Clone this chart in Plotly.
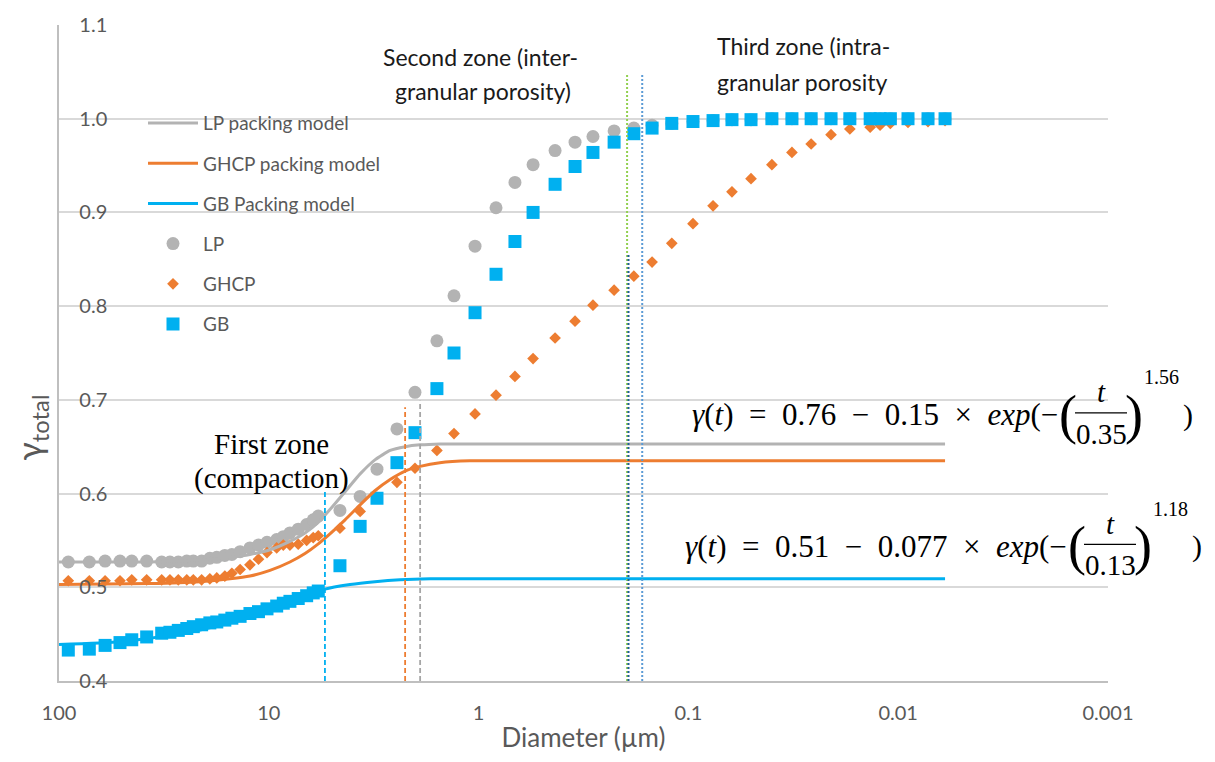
import plotly.graph_objects as go

# ---------------- data ----------------
diameter = [90.3, 71.7, 60.3, 51.2, 45.0, 38.2, 32.4, 29.6, 27.0, 24.6, 22.9, 20.9,
            19.1, 17.7, 16.2, 15.0, 13.7, 12.3, 11.2, 10.2, 9.17, 8.53, 7.93, 7.24,
            6.60, 6.14, 5.81, 4.58, 3.67, 3.05, 2.45, 2.01, 1.58, 1.31, 1.04, 0.826,
            0.671, 0.550, 0.432, 0.347, 0.285, 0.226, 0.182, 0.149, 0.120, 0.0951,
            0.0763, 0.0620, 0.0503, 0.0400, 0.0321, 0.0260, 0.0209, 0.0170, 0.0136,
            0.0122, 0.0109, 0.00898, 0.00721, 0.00598]

lp = [0.527, 0.527, 0.528, 0.528, 0.528, 0.528, 0.527, 0.527, 0.527, 0.528, 0.528, 0.528,
      0.531, 0.532, 0.534, 0.535, 0.538, 0.542, 0.545, 0.548, 0.551, 0.554, 0.558, 0.562,
      0.567, 0.572, 0.576, 0.582, 0.597, 0.626, 0.669, 0.708, 0.763, 0.811, 0.864, 0.905,
      0.932, 0.951, 0.966, 0.975, 0.981, 0.987, 0.990, 0.993, 0.995, 0.997,
      0.998, 0.999, 0.999, 1.000, 1.000, 1.000, 1.000, 1.000, 1.000,
      1.000, 1.000, 1.000, 1.000, 1.000]

ghcp = [0.507, 0.507, 0.507, 0.507, 0.508, 0.508, 0.508, 0.508, 0.508, 0.508, 0.508, 0.508,
        0.509, 0.510, 0.512, 0.515, 0.519, 0.524, 0.530, 0.537, 0.542, 0.545, 0.545, 0.546,
        0.550, 0.553, 0.555, 0.563, 0.581, 0.596, 0.612, 0.627, 0.646, 0.664, 0.685, 0.705,
        0.725, 0.744, 0.766, 0.784, 0.801, 0.817, 0.832, 0.847, 0.867, 0.888,
        0.907, 0.922, 0.936, 0.951, 0.964, 0.973, 0.983, 0.989, 0.991,
        0.993, 0.995, 0.996, 0.997, 0.998]

gb = [0.433, 0.434, 0.438, 0.441, 0.444, 0.447, 0.451, 0.452, 0.454, 0.456, 0.458, 0.460,
      0.462, 0.463, 0.465, 0.467, 0.469, 0.472, 0.474, 0.477, 0.480, 0.483, 0.485, 0.488,
      0.491, 0.494, 0.496, 0.523, 0.565, 0.595, 0.633, 0.665, 0.712, 0.750, 0.793, 0.834,
      0.869, 0.900, 0.930, 0.949, 0.964, 0.975, 0.984, 0.990, 0.995, 0.997,
      0.998, 0.999, 0.999, 1.000, 1.000, 1.000, 1.000, 1.000, 1.000,
      1.000, 1.000, 1.000, 1.000, 1.000]

lp_model_d = [100, 36.8, 21.3, 15.3, 12.3, 9.87, 7.93, 6.72, 5.83, 5.11, 4.33, 3.67,
              3.12, 2.64, 2.24, 1.90, 1.53, 0.00598]
lp_model_y = [0.527, 0.527, 0.529, 0.532, 0.535, 0.540, 0.549, 0.558, 0.569, 0.583, 0.602,
              0.621, 0.636, 0.646, 0.650, 0.652, 0.653, 0.653]

ghcp_model_d = [100, 36.8, 21.3, 15.3, 12.3, 9.87, 7.93, 6.72, 5.83, 5.11, 4.33, 3.67,
                3.12, 2.64, 2.24, 1.90, 1.53, 1.10, 0.00598]
ghcp_model_y = [0.503, 0.504, 0.506, 0.509, 0.512, 0.518, 0.527, 0.536, 0.546, 0.557,
                0.572, 0.588, 0.603, 0.615, 0.624, 0.629, 0.633, 0.635, 0.635]

gb_model_d = [100, 51.2, 26.5, 15.3, 9.87, 7.10, 5.40, 4.10, 3.12, 2.37, 1.70, 0.00598]
gb_model_y = [0.439, 0.442, 0.450, 0.462, 0.475, 0.487, 0.498, 0.503, 0.506, 0.508,
              0.509, 0.509]

# zone boundary markers (diameter, top of line)
boundary_d = [5.40, 2.24, 1.90, 0.196, 0.193, 0.166]
boundary_top = [0.604, 0.692, 0.699, 1.048, 0.855, 1.047]
boundary_bottom = 0.4

xtick_vals = [100, 10, 1, 0.1, 0.01, 0.001]
xtick_text = ["100", "10", "1", "0.1", "0.01", "0.001"]

# ---------------- styles ----------------
GRAY = "#B3B3B3"
ORANGE = "#ED7D31"
BLUE = "#00B0F0"
TXT = "#595959"
SANS = "Lato, 'Open Sans', sans-serif"
SERIF = "'Liberation Serif', 'DejaVu Serif', serif"
boundary_style = [
    dict(color=BLUE, dash="5px,3px", width=1.8),
    dict(color=ORANGE, dash="5px,3px", width=1.8),
    dict(color="#A6A6A6", dash="5px,3px", width=1.8),
    dict(color="#92D050", dash="2px,2px", width=2),
    dict(color="#1F5C99", dash="2px,2px", width=2),
    dict(color="#5B9BD5", dash="2px,2px", width=2),
]

fig = go.Figure()

# data markers
fig.add_trace(go.Scatter(x=diameter, y=lp, mode="markers", name="LP", legendrank=4,
                         legendgroup="d1",
                         marker=dict(symbol="circle", size=13, color=GRAY)))
fig.add_trace(go.Scatter(x=diameter, y=ghcp, mode="markers", name="GHCP", legendrank=5,
                         legendgroup="d2",
                         marker=dict(symbol="diamond", size=9, color=ORANGE)))
fig.add_trace(go.Scatter(x=diameter, y=gb, mode="markers", name="GB", legendrank=6,
                         legendgroup="d3",
                         marker=dict(symbol="square", size=13, color=BLUE)))

# model lines
fig.add_trace(go.Scatter(x=lp_model_d, y=lp_model_y, mode="lines", name="LP packing model",
                         legendrank=1, legendgroup="m1",
                         line=dict(color=GRAY, width=3, shape="spline", smoothing=0.5)))
fig.add_trace(go.Scatter(x=ghcp_model_d, y=ghcp_model_y, mode="lines",
                         name="GHCP packing model", legendrank=2, legendgroup="m2",
                         line=dict(color=ORANGE, width=3, shape="spline", smoothing=0.5)))
fig.add_trace(go.Scatter(x=gb_model_d, y=gb_model_y, mode="lines", name="GB Packing model",
                         legendrank=3, legendgroup="m3",
                         line=dict(color=BLUE, width=3, shape="spline", smoothing=0.5)))

# zone boundaries
for d, top, st in zip(boundary_d, boundary_top, boundary_style):
    fig.add_trace(go.Scatter(x=[d, d], y=[boundary_bottom, top], mode="lines",
                             showlegend=False, hoverinfo="skip", line=st))

# ---------------- layout helpers (pixel -> paper) ----------------
L, R, T, B = 59, 1108, 18, 681
W, H = 1215, 762


def px(x):
    return (x - L) / (R - L)


def py(y):
    return (B - y) / (B - T)


annotations = []


def note(text, x, y, size, family=SANS, color="#1A1A1A", xanchor="center", angle=0):
    annotations.append(dict(text=text, x=px(x), y=py(y), xref="paper", yref="paper",
                            xanchor=xanchor, yanchor="middle", showarrow=False,
                            textangle=angle,
                            font=dict(family=family, size=size, color=color)))


note("Second zone (inter-", 480, 50, 23)
note("granular porosity)", 483, 85, 23)
note("Third zone (intra-", 715, 39, 23, xanchor="left")
note("granular porosity", 715, 76, 23, xanchor="left")
note("First zone", 271, 441, 29, family=SERIF, color="#000000")
note("(compaction)", 271, 476, 29, family=SERIF, color="#000000")
note("γ<sub>total</sub>", 31, 425, 34, color=TXT, angle=-90)

sp = "\u2002"
shapes = []


def equation(a, b, c, n, x_paren, y_mid):
    main = ("<i>γ</i>(<i>t</i>)" + sp + "=" + sp + a + sp + "−" + sp + b + sp + "×" + sp +
            "<i>exp</i>(−")
    note(main, x_paren - 8, y_mid, 31, family=SERIF, color="#000000", xanchor="right")
    note("(", x_paren, y_mid, 54, family=SERIF, color="#000000")
    xf = x_paren + 33
    note("<i>t</i>", xf, y_mid - 23, 29, family=SERIF, color="#000000")
    note(c, xf, y_mid + 19, 29, family=SERIF, color="#000000")
    shapes.append(dict(type="line", xref="paper", yref="paper",
                       x0=px(xf - 26), x1=px(xf + 26), y0=py(y_mid - 2), y1=py(y_mid - 2),
                       line=dict(color="#000000", width=1.3)))
    note(")", x_paren + 66, y_mid, 54, family=SERIF, color="#000000")
    note(n, x_paren + 93, y_mid - 38, 20, family=SERIF, color="#000000")
    note(")", x_paren + 120, y_mid, 30, family=SERIF, color="#000000")


equation("0.76", "0.15", "0.35", "1.56", 1068, 412)
equation("0.51", "0.077", "0.13", "1.18", 1077, 545)

fig.update_layout(
    width=W, height=H,
    margin=dict(l=L, r=W - R, t=T, b=H - B),
    paper_bgcolor="white", plot_bgcolor="white",
    annotations=annotations, shapes=shapes,
    showlegend=True,
    legend=dict(x=px(143), y=py(98), xanchor="left", yanchor="top",
                bgcolor="rgba(0,0,0,0)", traceorder="grouped", tracegroupgap=12.5,
                itemwidth=50,
                font=dict(family=SANS, size=19, color=TXT)),
    xaxis=dict(type="log", range=[2, -3], tickvals=xtick_vals, ticktext=xtick_text,
               showgrid=False, zeroline=False, showline=True, linecolor="#BFBFBF",
               linewidth=1.5, ticks="", ticklabelstandoff=13,
               tickfont=dict(family=SANS, size=20, color=TXT),
               title=dict(text="Diameter (µm)", standoff=6,
                          font=dict(family=SANS, size=26, color=TXT))),
    yaxis=dict(range=[0.4, 1.1], dtick=0.1, tick0=0.4, tickformat=".1f",
               showgrid=True, gridcolor="#D9D9D9", gridwidth=1.5, zeroline=False,
               showline=True, linecolor="#BFBFBF", linewidth=1.5, ticks="",
               ticklabelstandoff=-54,
               tickfont=dict(family=SANS, size=20, color=TXT)),
)

fig.write_html("out.html")
